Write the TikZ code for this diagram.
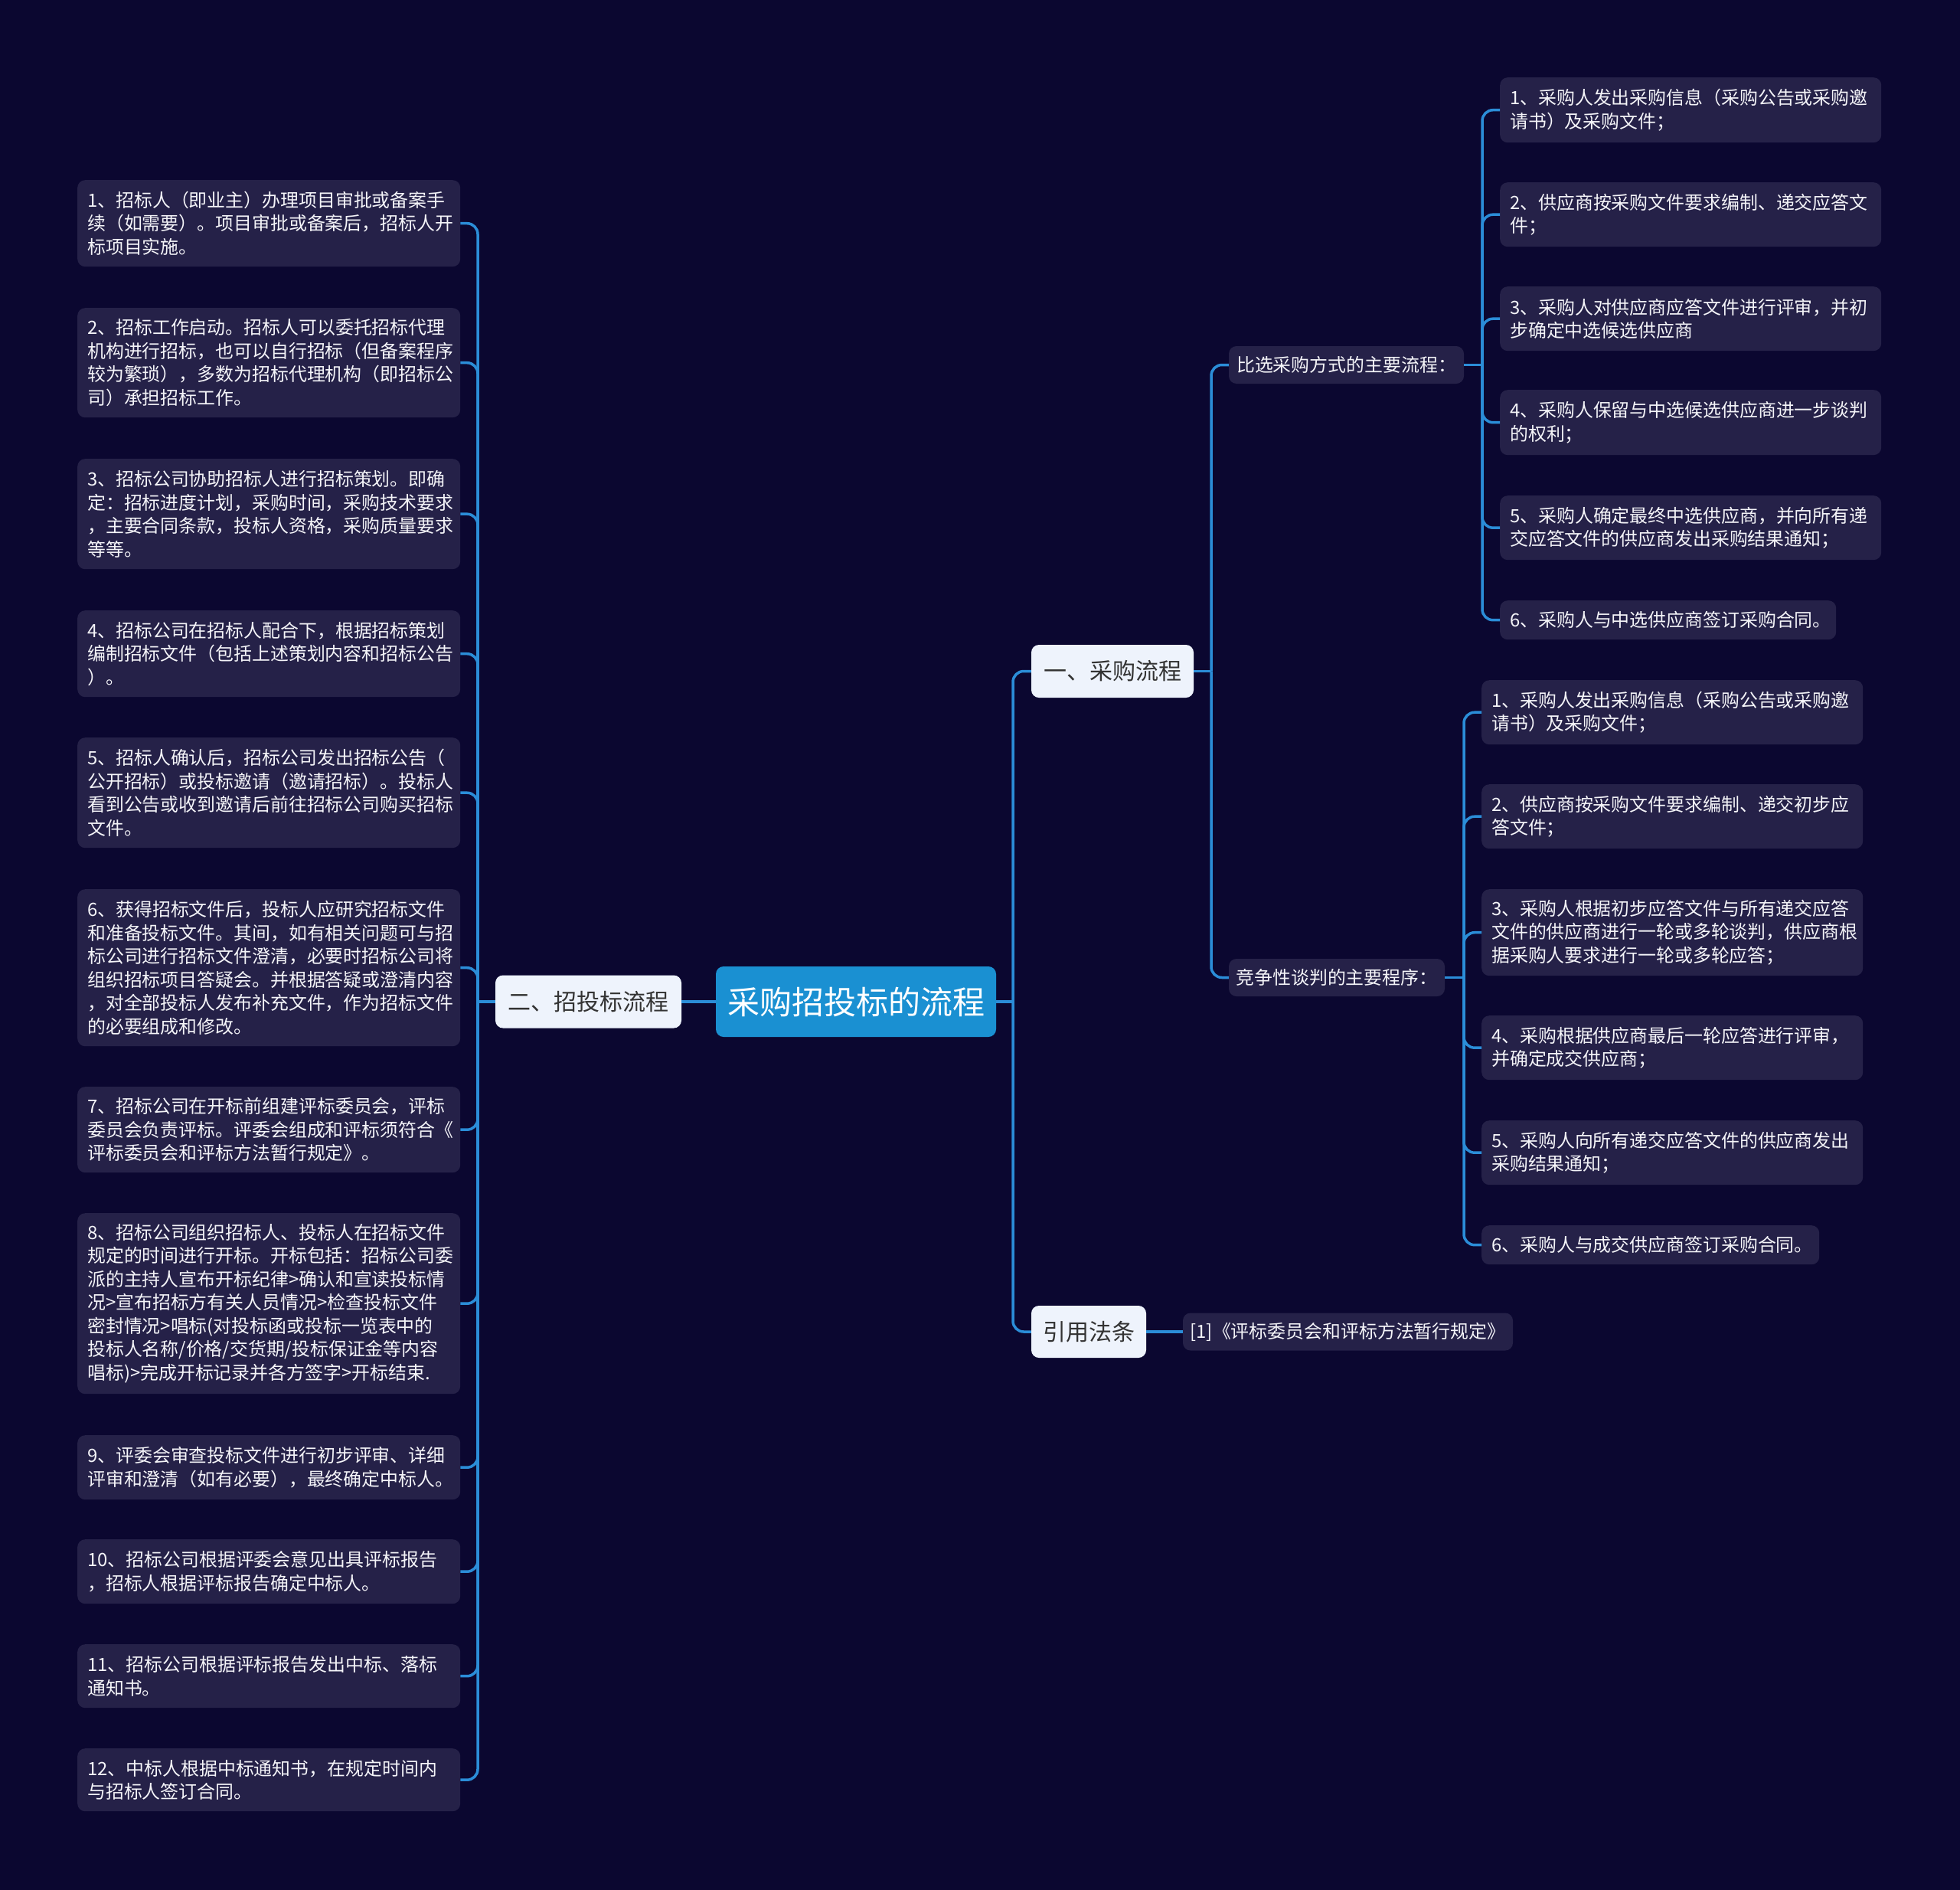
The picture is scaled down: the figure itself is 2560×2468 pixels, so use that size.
\documentclass[tikz,border=0pt]{standalone}
\usepackage{fontspec}
\setmainfont{Noto Sans CJK SC}
\definecolor{bgc}{HTML}{0B0730}
\definecolor{leafc}{HTML}{252148}
\definecolor{linec}{HTML}{2B8DD8}
\definecolor{rootc}{HTML}{1A90D2}
\definecolor{lightc}{HTML}{EEF3FC}
\definecolor{darktext}{HTML}{333333}
\definecolor{leaftext}{HTML}{F4F4F8}
\begin{document}
\begin{tikzpicture}[x=1pt,y=-1pt,
  leaf/.style={fill=leafc, rounded corners=10pt, text=leaftext, font=\fontsize{23.9pt}{30.5pt}\selectfont, align=left, inner xsep=13pt, inner ysep=0pt, anchor=north west},
  subbox/.style={fill=leafc, rounded corners=10pt, text=leaftext, font=\fontsize{23.9pt}{30.5pt}\selectfont, inner sep=0pt},
  lightbox/.style={fill=lightc, rounded corners=10pt, text=darktext, font=\fontsize{30pt}{36pt}\selectfont, inner sep=0pt},
  rootbox/.style={fill=rootc, rounded corners=10pt, text=white, font=\fontsize{42pt}{50pt}\selectfont, inner sep=0pt},
  conn/.style={draw=linec, line width=3.5pt},
  bendline/.style={conn, rounded corners=14pt}
]
\fill[bgc] (0,0) rectangle (2560,2468);
\useasboundingbox (0,0) rectangle (2560,2468);

% trunk x positions
\coordinate (tL) at (624,0);
\coordinate (tR) at (1323,0);
\coordinate (t1) at (1582,0);
\coordinate (tA) at (1936,0);
\coordinate (tB) at (1912,0);

% main nodes
\node[rootbox, minimum width=366pt, minimum height=92pt] (root) at (1118,1308) {采购招投标的流程};
\node[lightbox, minimum width=243pt, minimum height=69pt] (b2) at (768.5,1308) {二、招投标流程};
\node[lightbox, minimum width=212pt, minimum height=69pt] (b1) at (1453,876.5) {一、采购流程};
\node[lightbox, minimum width=150pt, minimum height=68pt] (b3) at (1422,1739) {引用法条};
\node[subbox, minimum width=431pt, minimum height=49pt] (ref) at (1760.5,1739) {[1]《评标委员会和评标方法暂行规定》};
\node[subbox, minimum width=307pt, minimum height=49pt] (s1) at (1758.5,476.5) {比选采购方式的主要流程：};
\node[subbox, minimum width=282pt, minimum height=49pt] (s2) at (1746,1276.5) {竞争性谈判的主要程序：};

% left leaves
\node[leaf, text width=474pt, minimum height=113pt] (L1) at (101,235) {1、招标人（即业主）办理项目审批或备案手\\续（如需要）。项目审批或备案后，招标人开\\标项目实施。};
\node[leaf, text width=474pt, minimum height=143pt] (L2) at (101,402) {2、招标工作启动。招标人可以委托招标代理\\机构进行招标，也可以自行招标（但备案程序\\较为繁琐），多数为招标代理机构（即招标公\\司）承担招标工作。};
\node[leaf, text width=474pt, minimum height=144pt] (L3) at (101,599) {3、招标公司协助招标人进行招标策划。即确\\定：招标进度计划，采购时间，采购技术要求\\，主要合同条款，投标人资格，采购质量要求\\等等。};
\node[leaf, text width=474pt, minimum height=113pt] (L4) at (101,797) {4、招标公司在招标人配合下，根据招标策划\\编制招标文件（包括上述策划内容和招标公告\\）。};
\node[leaf, text width=474pt, minimum height=144pt] (L5) at (101,963) {5、招标人确认后，招标公司发出招标公告（\\公开招标）或投标邀请（邀请招标）。投标人\\看到公告或收到邀请后前往招标公司购买招标\\文件。};
\node[leaf, text width=474pt, minimum height=205pt] (L6) at (101,1161) {6、获得招标文件后，投标人应研究招标文件\\和准备投标文件。其间，如有相关问题可与招\\标公司进行招标文件澄清，必要时招标公司将\\组织招标项目答疑会。并根据答疑或澄清内容\\，对全部投标人发布补充文件，作为招标文件\\的必要组成和修改。};
\node[leaf, text width=474pt, minimum height=112pt] (L7) at (101,1419) {7、招标公司在开标前组建评标委员会，评标\\委员会负责评标。评委会组成和评标须符合《\\评标委员会和评标方法暂行规定》。};
\node[leaf, text width=474pt, minimum height=236pt] (L8) at (101,1584) {8、招标公司组织招标人、投标人在招标文件\\规定的时间进行开标。开标包括：招标公司委\\派的主持人宣布开标纪律>确认和宣读投标情\\况>宣布招标方有关人员情况>检查投标文件\\密封情况>唱标(对投标函或投标一览表中的\\投标人名称/价格/交货期/投标保证金等内容\\唱标)>完成开标记录并各方签字>开标结束.};
\node[leaf, text width=474pt, minimum height=84pt] (L9) at (101,1874) {9、评委会审查投标文件进行初步评审、详细\\评审和澄清（如有必要），最终确定中标人。};
\node[leaf, text width=474pt, minimum height=84pt] (L10) at (101,2010) {10、招标公司根据评委会意见出具评标报告\\，招标人根据评标报告确定中标人。};
\node[leaf, text width=474pt, minimum height=83pt] (L11) at (101,2147) {11、招标公司根据评标报告发出中标、落标\\通知书。};
\node[leaf, text width=474pt, minimum height=82pt] (L12) at (101,2283) {12、中标人根据中标通知书，在规定时间内\\与招标人签订合同。};

% right group A
\node[leaf, text width=472pt, minimum height=85pt] (A1) at (1959,101) {1、采购人发出采购信息（采购公告或采购邀\\请书）及采购文件；};
\node[leaf, text width=472pt, minimum height=84pt] (A2) at (1959,238) {2、供应商按采购文件要求编制、递交应答文\\件；};
\node[leaf, text width=472pt, minimum height=84pt] (A3) at (1959,374) {3、采购人对供应商应答文件进行评审，并初\\步确定中选候选供应商};
\node[leaf, text width=472pt, minimum height=85pt] (A4) at (1959,509) {4、采购人保留与中选候选供应商进一步谈判\\的权利；};
\node[leaf, text width=472pt, minimum height=84pt] (A5) at (1959,647) {5、采购人确定最终中选供应商，并向所有递\\交应答文件的供应商发出采购结果通知；};
\node[leaf, text width=413pt, minimum height=51pt] (A6) at (1959,784) {6、采购人与中选供应商签订采购合同。};

% right group B
\node[leaf, text width=472pt, minimum height=84pt] (B1) at (1935,888) {1、采购人发出采购信息（采购公告或采购邀\\请书）及采购文件；};
\node[leaf, text width=472pt, minimum height=84pt] (B2) at (1935,1024) {2、供应商按采购文件要求编制、递交初步应\\答文件；};
\node[leaf, text width=472pt, minimum height=113pt] (B3) at (1935,1161) {3、采购人根据初步应答文件与所有递交应答\\文件的供应商进行一轮或多轮谈判，供应商根\\据采购人要求进行一轮或多轮应答；};
\node[leaf, text width=472pt, minimum height=84pt] (B4) at (1935,1326) {4、采购根据供应商最后一轮应答进行评审，\\并确定成交供应商；};
\node[leaf, text width=472pt, minimum height=84pt] (B5) at (1935,1463) {5、采购人向所有递交应答文件的供应商发出\\采购结果通知；};
\node[leaf, text width=415pt, minimum height=51pt] (B6) at (1935,1600) {6、采购人与成交供应商签订采购合同。};

% connectors
\draw[conn] (root.west) -- (b2.east);
\draw[conn] (b2.west) -- (b2.west -| tL);
\foreach \i in {1,...,12} \draw[bendline] (b2.west -| tL) -- (L\i.east -| tL) -- (L\i.east);

\draw[conn] (root.east) -- (root.east -| tR);
\foreach \c in {b1,b3} \draw[bendline] (root.east -| tR) -- (\c.west -| tR) -- (\c.west);

\draw[conn] (b1.east) -- (b1.east -| t1);
\foreach \c in {s1,s2} \draw[bendline] (b1.east -| t1) -- (\c.west -| t1) -- (\c.west);

\draw[conn] (s1.east) -- (s1.east -| tA);
\foreach \i in {1,...,6} \draw[bendline] (s1.east -| tA) -- (A\i.west -| tA) -- (A\i.west);

\draw[conn] (s2.east) -- (s2.east -| tB);
\foreach \i in {1,...,6} \draw[bendline] (s2.east -| tB) -- (B\i.west -| tB) -- (B\i.west);

\draw[conn] (b3.east) -- (ref.west);
\end{tikzpicture}
\end{document}
